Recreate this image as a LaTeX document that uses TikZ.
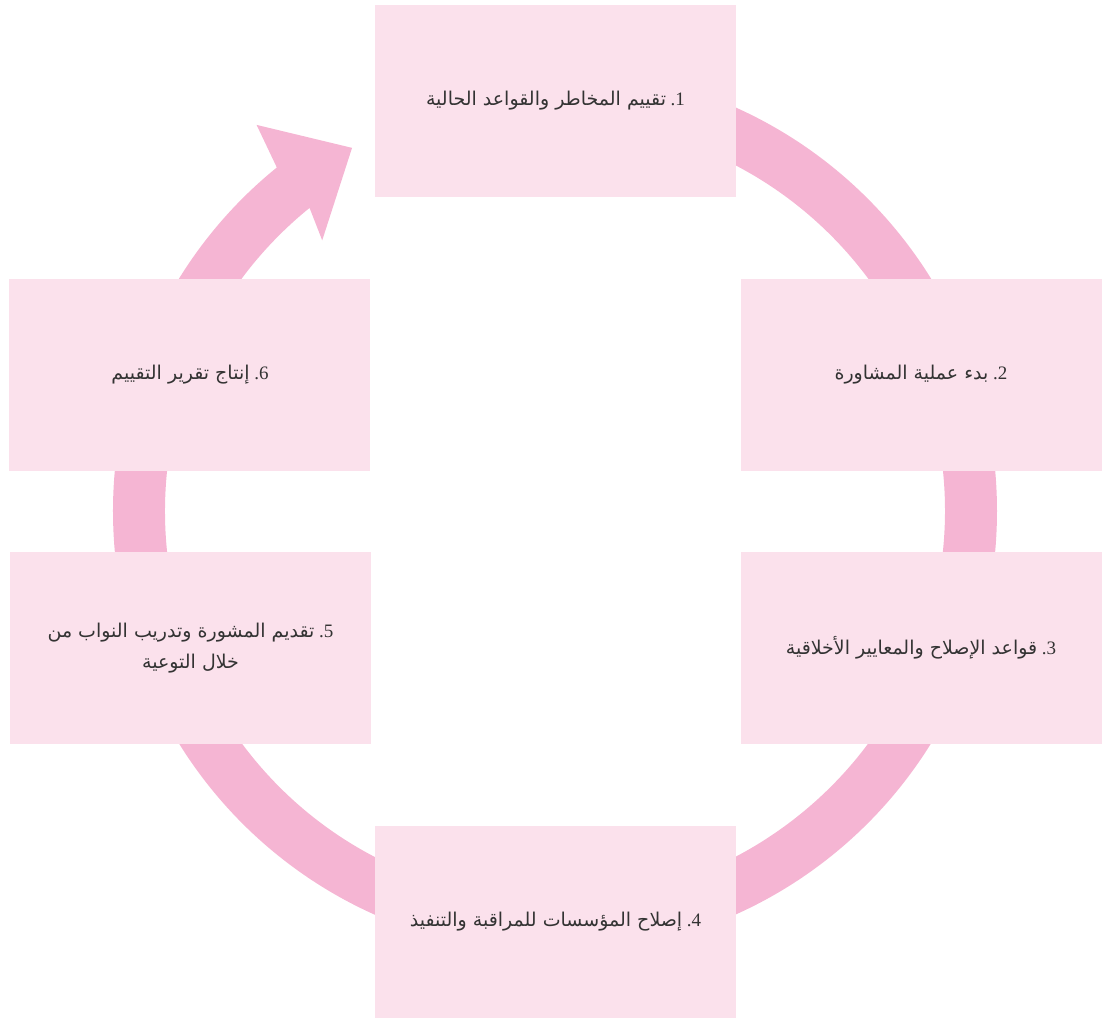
\documentclass[tikz,border=0pt]{standalone}
\usepackage{fontspec}
\setmainfont{Liberation Serif}
\newfontfamily\arabicfont[Script=Arabic]{DejaVu Sans}
\TeXXeTstate=1
\definecolor{boxpink}{HTML}{FBE1EC}
\definecolor{ringpink}{HTML}{F5B5D3}
\definecolor{textgray}{HTML}{333333}
\tikzset{
  stage/.style={fill=boxpink,minimum width=361pt,minimum height=192pt,
    text=textgray,align=center,inner sep=0pt,
    font=\fontsize{19}{31}\selectfont}
}
\begin{document}
\begin{tikzpicture}[x=1pt,y=1pt]
\useasboundingbox (-555,-508) rectangle (548,511);
% ring with the arrow head at the top left
\fill[ringpink] (90:442) arc[start angle=90,end angle=-231,radius=442]
  -- (-232.3:488) -- (-240.8:416) -- (-229.3:357)
  -- (-231:390) arc[start angle=-231,end angle=90,radius=390] -- cycle;
\node[stage] (assess) at (0.5,410) {\beginR 1\kern0pt.\ {\arabicfont تقييم المخاطر والقواعد الحالية}\endR};
\node[stage] (consult) at (366,136) {\beginR 2\kern0pt.\ {\arabicfont بدء عملية المشاورة}\endR};
\node[stage] (ethics) at (366,-137) {\beginR 3\kern0pt.\ {\arabicfont قواعد الإصلاح والمعايير الأخلاقية}\endR};
\node[stage] (reform) at (0.5,-411) {\beginR 4\kern0pt.\ {\arabicfont إصلاح المؤسسات للمراقبة والتنفيذ}\endR};
\node[stage] (advice) at (-364.5,-137) {\beginR 5\kern0pt.\ {\arabicfont تقديم المشورة وتدريب النواب من}\endR\\
  {\arabicfont\beginR خلال التوعية\endR}};
\node[stage] (report) at (-365,136) {\beginR 6\kern0pt.\ {\arabicfont إنتاج تقرير التقييم}\endR};
\end{tikzpicture}
\end{document}
